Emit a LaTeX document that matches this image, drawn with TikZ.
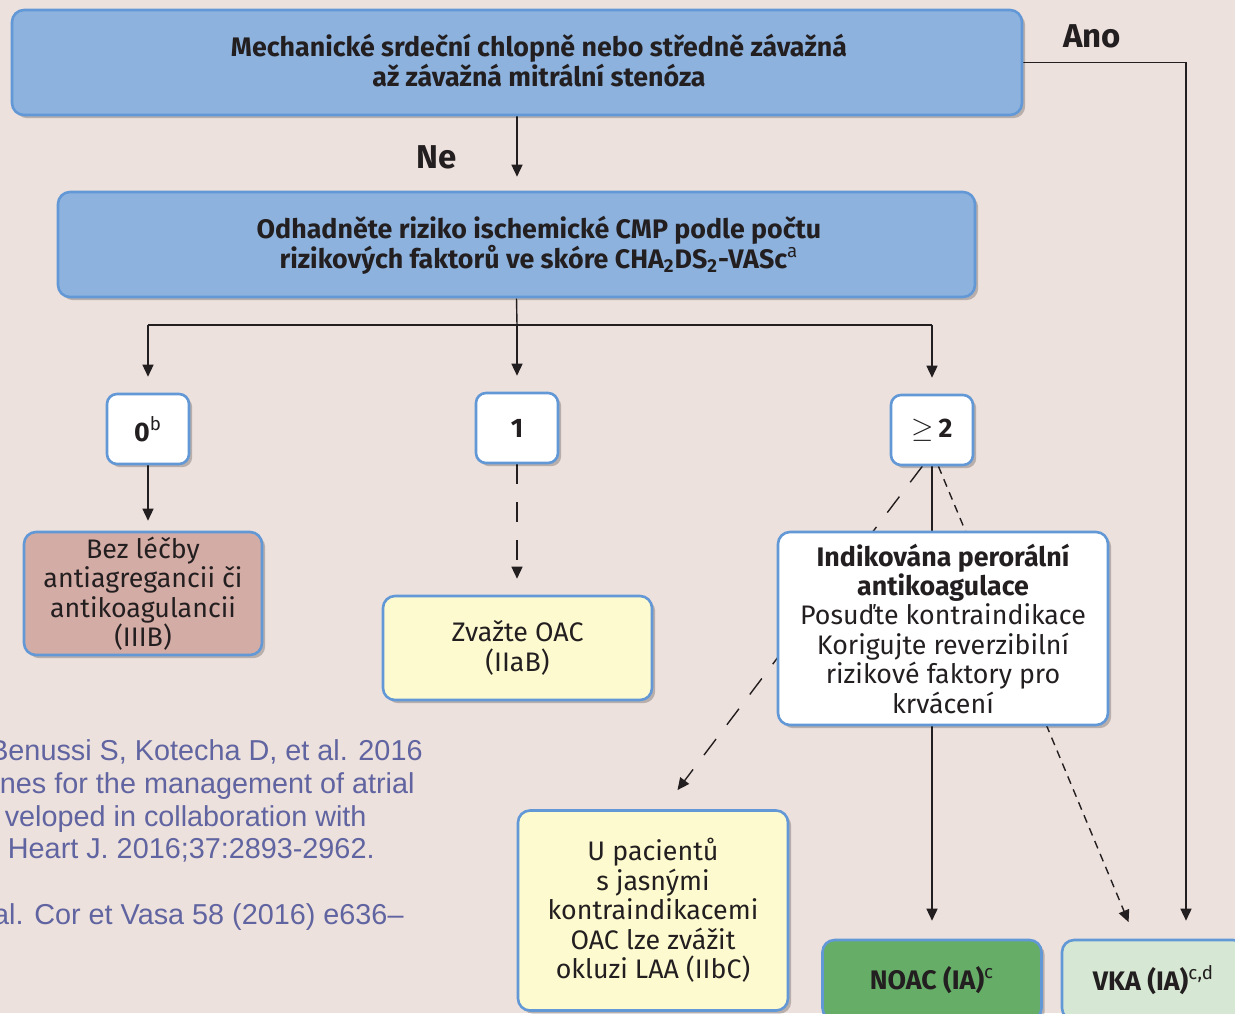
\documentclass[tikz,border=0pt]{standalone}
\usepackage{fontspec}
\setmainfont{Fira Sans}
\newfontfamily\citefont{Liberation Sans}
\usetikzlibrary{arrows.meta,shadows}

\definecolor{bgpink}{RGB}{237,225,221}
\definecolor{boxblue}{RGB}{141,178,222}
\definecolor{edgeblue}{RGB}{98,152,214}
\definecolor{bezfill}{RGB}{212,172,166}
\definecolor{yelfill}{RGB}{253,250,207}
\definecolor{noacfill}{RGB}{102,174,104}
\definecolor{vkafill}{RGB}{214,232,212}
\definecolor{ink}{RGB}{35,31,32}
\definecolor{citeblue}{RGB}{96,100,160}

\pgfdeclarelayer{bg}
\pgfdeclarelayer{behind}
\pgfsetlayers{bg,behind,main}

\begin{document}
\begin{tikzpicture}[x=0.5pt,y=-0.5pt,
  box/.style={draw=edgeblue,line width=1.3pt,rounded corners=6pt,align=center,text=ink,
    font=\fontsize{13.4}{14.7}\selectfont,inner sep=1pt,
    drop shadow={shadow xshift=1.6pt,shadow yshift=-1.6pt,opacity=0.22,fill=black}},
  bluebox/.style={box,fill=boxblue},
  numbox/.style={box,fill=white,minimum width=41pt,minimum height=35pt,rounded corners=5pt,
    font=\fontsize{13.4}{14.7}\selectfont\bfseries},
  txt/.style={align=center,text=ink,font=\fontsize{13.4}{15}\selectfont\bfseries},
  lbl/.style={text=ink,font=\fontsize{16.5}{19}\selectfont\bfseries},
  cite/.style={text=citeblue,font=\citefont\fontsize{14.4}{17}\selectfont,anchor=base east,inner sep=0pt},
  conn/.style={draw=ink,line width=0.7pt},
  arr/.style={conn,-{Triangle[length=6pt,width=5.5pt]}},
  longdash/.style={dash pattern=on 10pt off 9pt},
  shortdash/.style={dash pattern=on 4pt off 3pt},
]
\begin{pgfonlayer}{bg}
  \fill[bgpink] (0,0) rectangle (1235,1013);
\end{pgfonlayer}
\useasboundingbox (0,0) rectangle (1235,1013);

% top question
\node[bluebox,minimum width=505pt,minimum height=52.5pt] (mech) at (517,62.5) {};
\node[txt] (mechtxt) at (539,61) {Mechanické srdeční chlopně nebo středně závažná\\až závažná mitrální stenóza};
\node[lbl] (ano) at (1092,36) {Ano};
\node[lbl] (ne) at (437,157) {Ne};

% risk score
\node[bluebox,minimum width=458.5pt,minimum height=52.5pt] (risk) at (516.5,244.5) {};
\node[txt] (risktxt) at (539,245) {Odhadněte riziko ischemické CMP podle počtu\\rizikových faktorů ve skóre CHA\textsubscript{2}DS\textsubscript{2}-VASc\textsuperscript{\mdseries a}};
\coordinate (split) at (517,325);
\coordinate (anoturn) at (1186,62.5);

% score classes
\node[numbox] (z0) at (148,429) {0\textsuperscript{\mdseries b}};
\node[numbox] (z1) at (517,428) {1};
\node[numbox] (z2) at (932,430) {{\mdseries$\geq$}\,2};

% recommendations
\node[box,fill=bezfill,minimum width=119pt,minimum height=61.5pt] (bez) at (143,593.5)
  {Bez léčby\\antiagregancii či\\antikoagulancii\\(IIIB)};
\node[box,fill=yelfill,minimum width=134.5pt,minimum height=52pt] (zvaz) at (517.5,648)
  {Zvažte OAC\\(IIaB)};
\node[box,fill=white,minimum width=165pt,minimum height=96.5pt] (ind) at (943,628.5)
  {\textbf{Indikována perorální}\\\textbf{antikoagulace}\\Posuďte kontraindikace\\Korigujte reverzibilní\\rizikové faktory pro\\krvácení};
\node[box,fill=yelfill,minimum width=135pt,minimum height=100pt] (laa) at (653,910.5)
  {U pacientů\\s jasnými\\kontraindikacemi\\OAC lze zvážit\\okluzi LAA (IIbC)};
\node[box,fill=noacfill,minimum width=109.5pt,minimum height=40pt,font=\fontsize{13.4}{14.7}\selectfont\bfseries] (noac) at (932,980)
  {NOAC (IA)\textsuperscript{\mdseries c}};
\node[box,fill=vkafill,minimum width=91.5pt,minimum height=40pt,font=\fontsize{13.4}{14.7}\selectfont\bfseries] (vka) at (1153.5,980)
  {VKA (IA)\textsuperscript{\mdseries c,d}};

% source
\node[cite] (cite1) at (423,760) {Benussi S, Kotecha D, et al. 2016};
\node[cite] (cite2) at (415,793) {nes for the management of atrial};
\node[cite] (cite3) at (367,826) {veloped in collaboration with};
\node[cite] (cite4) at (375,858) {Heart J. 2016;37:2893-2962.};
\node[cite] (cite5) at (404,924) {al. Cor et Vasa 58 (2016) e636–};

% connectors
\begin{pgfonlayer}{behind}
  \draw[arr,shorten >=7pt] (mech.south) -- (mech.south |- risk.north);
  \draw[arr,shorten >=9pt] (mech.east) -- (anoturn) -- (anoturn |- vka.north);
  \draw[conn] (risk.south) -- (split);
  \draw[conn] (z0.north |- split) -- (z2.north |- split);
  \draw[arr,shorten >=8pt] (z0.north |- split) -- (z0.north);
  \draw[arr,shorten >=8pt] (split) -- (z1.north);
  \draw[arr,shorten >=8pt] (z2.north |- split) -- (z2.north);
  \draw[arr,shorten >=5pt] (z0.south) -- (z0.south |- bez.north);
  \draw[arr,longdash,shorten >=8pt] (z1.south) -- (z1.south |- zvaz.north);
  \draw[arr,shorten >=9pt] (z2.south) -- (noac.north);
  \draw[arr,longdash,shorten >=12pt] (z2.255) -- ([xshift=5pt]laa.north);
  \draw[arr,shortdash,shorten >=9pt] (z2.-80) -- ([xshift=-9pt]vka.north);
\end{pgfonlayer}
\end{tikzpicture}
\end{document}
